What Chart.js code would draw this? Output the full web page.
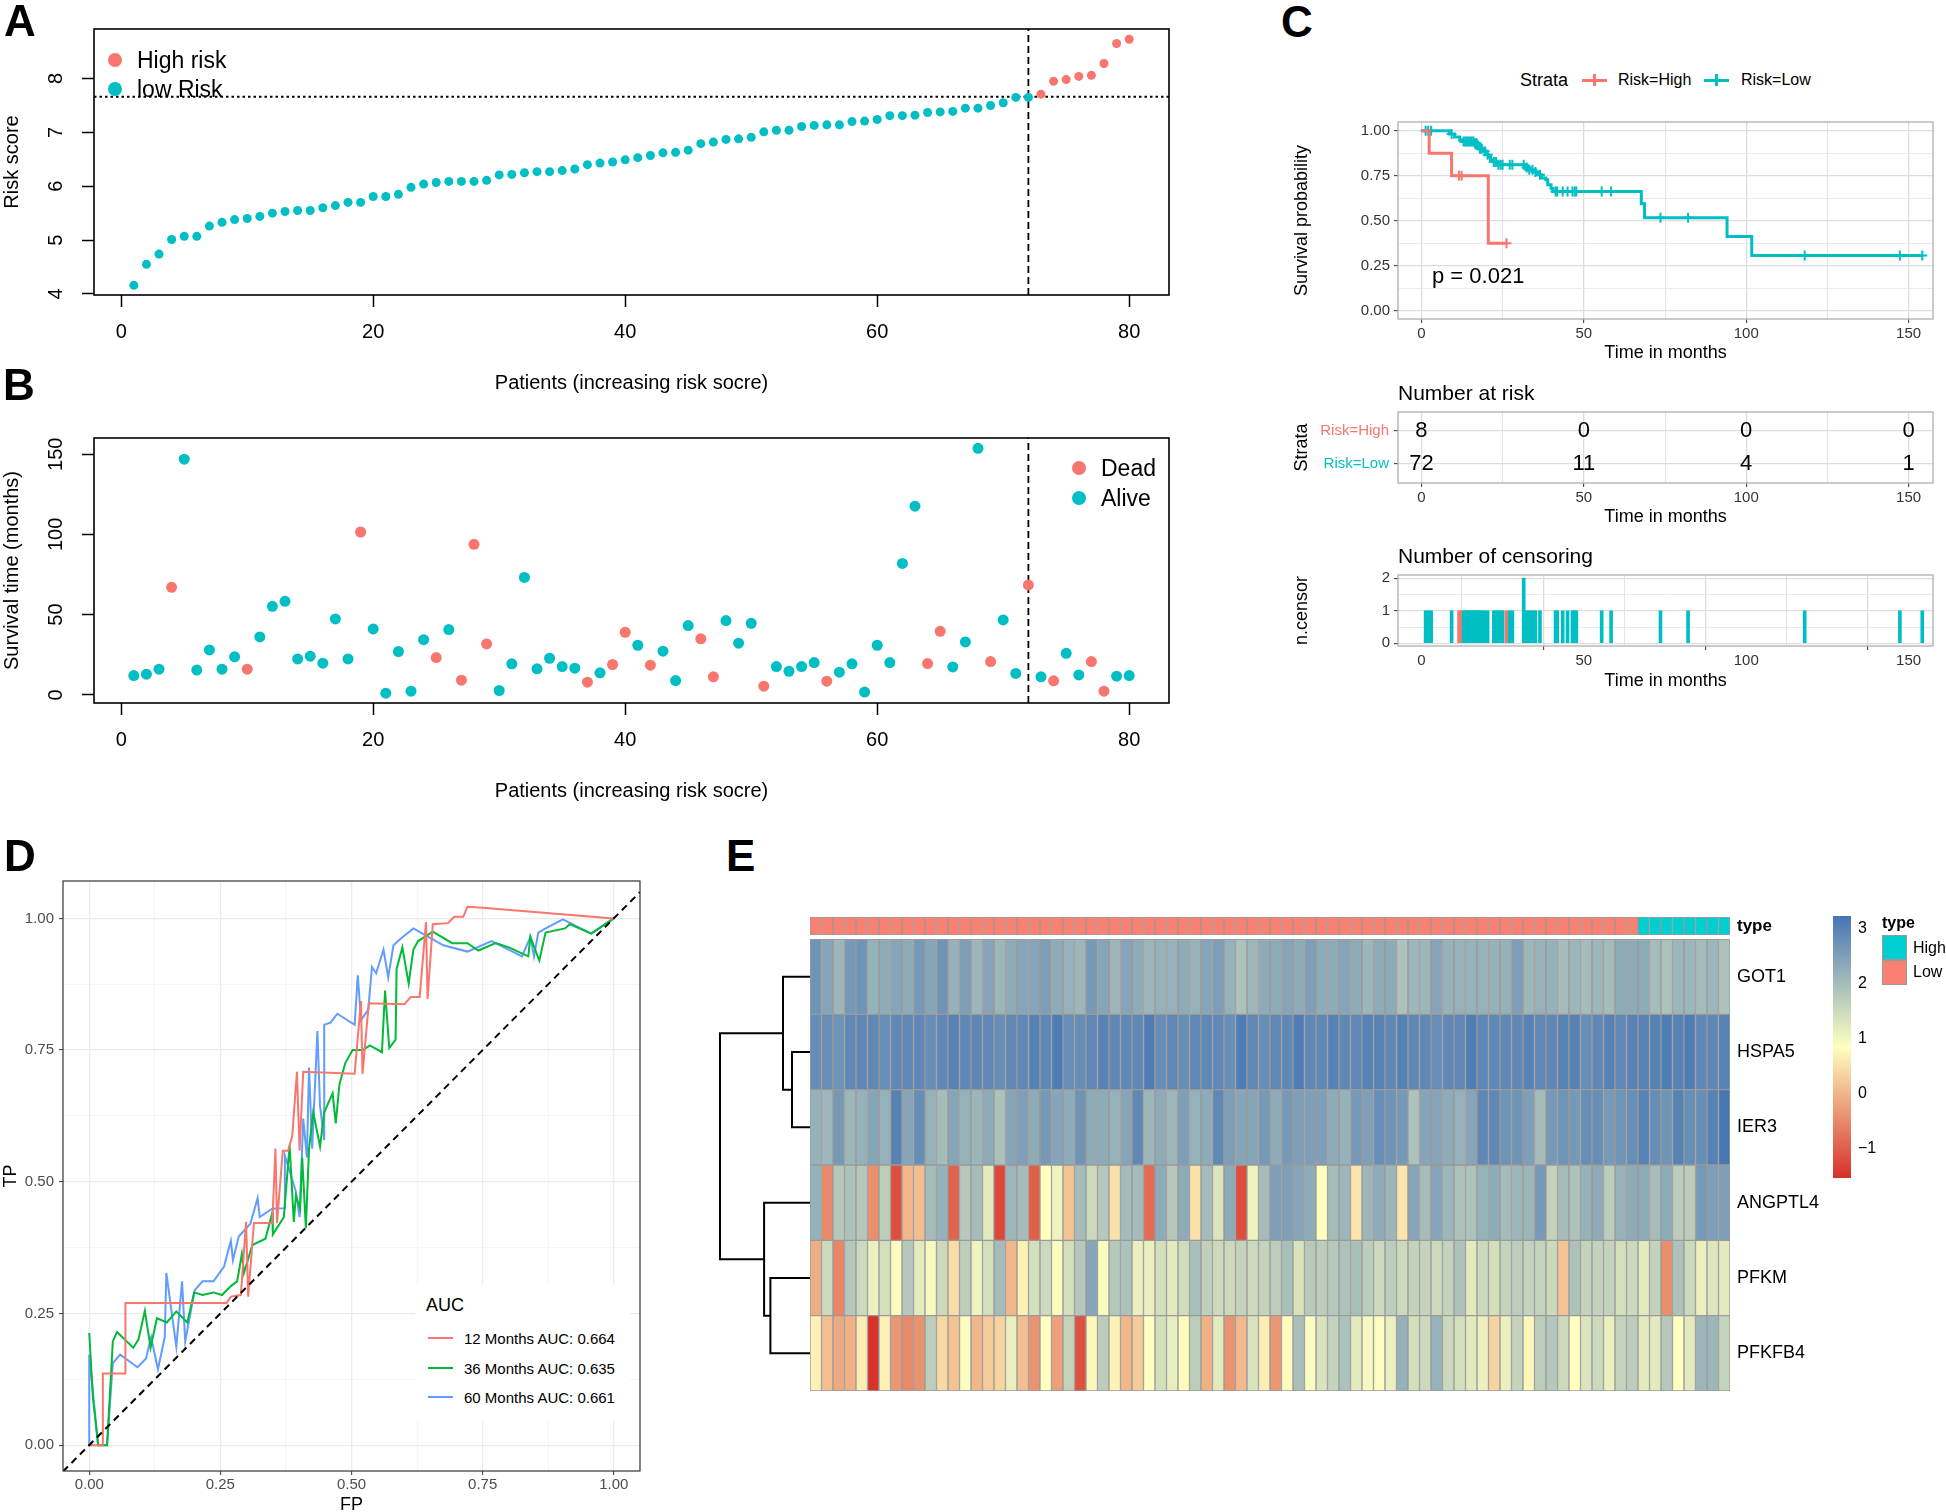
<!DOCTYPE html>
<html lang="en">
<head>
<meta charset="UTF-8">
<title>Risk model panels</title>
<script src="https://cdn.jsdelivr.net/npm/chart.js"></script>
<style>
  html, body { margin: 0; padding: 0; background: #fff; }
  body { position: relative; width: 1946px; height: 1512px; overflow: hidden;
         font-family: "Liberation Sans", Arial, Helvetica, sans-serif; color: #000; }
  canvas { position: absolute; }
  .t { position: absolute; white-space: nowrap; line-height: 1; transform: translateY(-50%); }
  .blk { position: absolute; }
</style>
</head>
<body>
<script>
// ---------------- data ----------------
const patients = Array.from({ length: 80 }, (_, i) => i + 1);

const riskScore = [4.16, 4.55, 4.74, 5.01, 5.07, 5.07, 5.26, 5.33, 5.38, 5.40,
  5.44, 5.50, 5.53, 5.55, 5.55, 5.60, 5.64, 5.70, 5.70, 5.81,
  5.81, 5.85, 5.98, 6.04, 6.07, 6.09, 6.09, 6.09, 6.11, 6.21,
  6.22, 6.25, 6.27, 6.27, 6.29, 6.32, 6.40, 6.43, 6.45, 6.49,
  6.53, 6.57, 6.62, 6.63, 6.67, 6.79, 6.82, 6.87, 6.88, 6.91,
  7.01, 7.04, 7.04, 7.11, 7.13, 7.14, 7.14, 7.20, 7.21, 7.24,
  7.31, 7.31, 7.32, 7.37, 7.38, 7.39, 7.45, 7.45, 7.50, 7.55,
  7.65, 7.65, 7.71, 7.95, 7.98, 8.04, 8.06, 8.28, 8.65, 8.73];
const riskCutoff = 7.66;
const cutPatient = 72;

const survTime = [12.0, 12.9, 16.0, 67.0, 146.9, 15.4, 28.0, 16.0, 23.7, 16.0,
  36.1, 55.2, 58.3, 22.4, 24.1, 19.7, 47.3, 22.4, 101.5, 41.1,
  1.0, 27.0, 2.3, 34.4, 23.2, 40.7, 9.1, 93.8, 31.7, 2.7,
  19.3, 73.2, 16.2, 22.8, 17.6, 16.6, 7.9, 13.7, 18.9, 39.0,
  30.9, 18.5, 27.2, 8.9, 43.2, 34.9, 11.2, 46.3, 32.2, 44.6,
  5.4, 17.6, 14.7, 17.6, 20.1, 8.5, 14.1, 19.3, 1.7, 30.9,
  20.1, 81.9, 117.6, 19.5, 39.6, 17.4, 33.0, 153.7, 20.7, 46.7,
  13.3, 68.5, 11.2, 8.7, 25.9, 12.4, 20.7, 2.3, 11.6, 12.0];
const deadStatus = [0, 0, 0, 1, 0, 0, 0, 0, 0, 1,
  0, 0, 0, 0, 0, 0, 0, 0, 1, 0,
  0, 0, 0, 0, 1, 0, 1, 1, 1, 0,
  0, 0, 0, 0, 0, 0, 1, 0, 1, 1,
  0, 1, 0, 0, 0, 1, 1, 0, 0, 0,
  1, 0, 0, 0, 0, 1, 0, 0, 0, 0,
  0, 0, 0, 1, 1, 0, 0, 0, 1, 0,
  0, 1, 0, 1, 0, 0, 1, 1, 0, 0];

const abXTicks = [0, 20, 40, 60, 80];
const riskYTicks = [4, 5, 6, 7, 8];
const survYTicks = [0, 50, 100, 150];

// Kaplan-Meier
const kmHighTime = [0, 2.4, 9.3, 20.6, 26.5];
const kmHighSurv = [1, 0.875, 0.75, 0.375, 0.375];
const kmLowTime = [0, 8.6, 10.2, 11.8, 12.5, 16.1, 17.4, 18.0, 19.1, 20.0, 20.6, 21.3, 22.3, 23.3,
  32.1, 33.1, 34.4, 35.7, 37.0, 38.3, 38.9, 39.9, 40.5, 67.7, 68.7, 94.1, 101.7, 154.2];
const kmLowSurv = [1, 0.981, 0.965, 0.95, 0.94, 0.93, 0.918, 0.90, 0.885, 0.866, 0.853, 0.839, 0.826, 0.81,
  0.796, 0.783, 0.77, 0.755, 0.737, 0.727, 0.70, 0.68, 0.662, 0.594, 0.516, 0.412, 0.306, 0.306];
const censorHighTime = [11.6, 12.4, 26.2];
const censorHighCount = [1, 1, 1];
const censorLowTime = [1.3, 2.1, 3.0, 9.3, 13.0, 13.5, 14.0, 14.5, 15.0, 15.5, 16.0, 16.5, 17.0, 17.5,
  18.0, 18.5, 19.5, 20.4, 22.3, 23.0, 23.7, 24.4, 25.0, 27.2, 28.0, 31.5, 32.4, 33.2, 34.2, 35.1,
  36.5, 41.3, 41.8, 43.5, 45.0, 46.5, 47.2, 47.7, 55.5, 58.4, 73.6, 82.1, 118.0, 147.3, 154.2];
const censorLowCount = [1, 1, 1, 1, 1, 1, 1, 1, 1, 1, 1, 1, 1, 1,
  1, 1, 1, 1, 1, 1, 1, 1, 1, 1, 1, 2, 1, 1, 1, 1,
  1, 1, 1, 1, 1, 1, 1, 1, 1, 1, 1, 1, 1, 1, 1];
const kmXTicks = [0, 25, 50, 75, 100, 125, 150];
const kmYTicks = [0, 0.125, 0.25, 0.375, 0.5, 0.625, 0.75, 0.875, 1];
const riskTimes = [0, 50, 100, 150];
const riskHigh = [8, 0, 0, 0];
const riskLow = [72, 11, 4, 1];
const censorYTicks = [0, 0.5, 1, 1.5, 2];

// ROC
const fp12 = [0, 0.026, 0.026, 0.069, 0.069, 0.262, 0.270, 0.289, 0.299, 0.303, 0.314, 0.349, 0.355, 0.358,
  0.369, 0.379, 0.387, 0.396, 0.401, 0.408, 0.506, 0.518, 0.521, 0.533, 0.601, 0.613, 0.630, 0.642,
  0.645, 0.655, 0.684, 0.696, 0.713, 0.721, 0.750, 1.0];
const tp12 = [0, 0, 0.136, 0.136, 0.270, 0.270, 0.282, 0.285, 0.424, 0.282, 0.422, 0.422, 0.563, 0.422,
  0.559, 0.559, 0.587, 0.709, 0.559, 0.709, 0.705, 0.843, 0.705, 0.839, 0.837, 0.851, 0.851, 0.993,
  0.847, 0.989, 0.991, 1.003, 1.003, 1.022, 1.020, 1.0];
const fp36 = [0, 0.007, 0.017, 0.034, 0.045, 0.053, 0.084, 0.094, 0.106, 0.117, 0.129, 0.148, 0.166, 0.187,
  0.2, 0.216, 0.237, 0.253, 0.27, 0.282, 0.291, 0.295, 0.311, 0.336, 0.349, 0.35, 0.371, 0.382, 0.39,
  0.394, 0.402, 0.406, 0.413, 0.419, 0.427, 0.44, 0.448, 0.464, 0.47, 0.477, 0.488, 0.502, 0.522, 0.535,
  0.558, 0.564, 0.572, 0.584, 0.586, 0.597, 0.609, 0.618, 0.627, 0.655, 0.692, 0.721, 0.742, 0.775, 0.8,
  0.837, 0.841, 0.858, 0.87, 0.907, 0.916, 0.957, 1];
const tp36 = [0.213, 0.091, 0, 0, 0.197, 0.215, 0.185, 0.201, 0.255, 0.185, 0.241, 0.233, 0.254, 0.233,
  0.29, 0.285, 0.29, 0.285, 0.302, 0.311, 0.363, 0.327, 0.38, 0.392, 0.441, 0.4, 0.433, 0.569, 0.424,
  0.473, 0.449, 0.546, 0.412, 0.563, 0.632, 0.567, 0.632, 0.668, 0.611, 0.685, 0.725, 0.75, 0.75, 0.759,
  0.746, 0.863, 0.754, 0.77, 0.904, 0.945, 0.876, 0.941, 0.957, 0.975, 0.953, 0.953, 0.939, 0.953, 0.945,
  0.928, 0.965, 0.92, 0.973, 0.981, 0.989, 0.971, 1];
const fp60 = [0, 0, 0.017, 0.034, 0.045, 0.059, 0.092, 0.108, 0.118, 0.131, 0.144, 0.147, 0.166, 0.177,
  0.183, 0.201, 0.216, 0.237, 0.257, 0.27, 0.274, 0.285, 0.307, 0.321, 0.325, 0.349, 0.373, 0.373, 0.394,
  0.401, 0.408, 0.415, 0.419, 0.425, 0.435, 0.44, 0.448, 0.448, 0.46, 0.473, 0.506, 0.512, 0.518, 0.532,
  0.539, 0.547, 0.561, 0.57, 0.58, 0.593, 0.618, 0.675, 0.721, 0.767, 0.825, 0.841, 0.848, 0.856, 0.87,
  0.903, 0.957, 1];
const tp60 = [0, 0.172, 0, 0, 0.156, 0.172, 0.148, 0.164, 0.205, 0.144, 0.205, 0.327, 0.187, 0.311,
  0.197, 0.294, 0.311, 0.311, 0.339, 0.388, 0.351, 0.396, 0.42, 0.469, 0.433, 0.449, 0.45, 0.55, 0.481,
  0.433, 0.62, 0.546, 0.717, 0.563, 0.786, 0.644, 0.579, 0.798, 0.802, 0.819, 0.798, 0.892, 0.807, 0.827,
  0.908, 0.896, 0.941, 0.888, 0.949, 0.961, 0.981, 0.949, 0.937, 0.957, 0.928, 0.965, 0.928, 0.973, 0.981,
  0.998, 0.971, 1];
const rocTicks = [0, 0.125, 0.25, 0.375, 0.5, 0.625, 0.75, 0.875, 1];
const rocLabels = ['12 Months AUC: 0.664', '36 Months AUC: 0.635', '60 Months AUC: 0.661'];

// heatmap
const geneNames = ['GOT1', 'HSPA5', 'IER3', 'ANGPTL4', 'PFKM', 'PFKFB4'];
const GOT1 = [2.7, 2.4, 2.1, 2.6, 2.7, 2.2, 2.3, 2.4, 2.3, 2.6, 2.4, 2.7, 2.2, 2.5, 2.1, 2.4, 2.1, 2.3, 2.4, 2.4,
  2.5, 2.3, 2.2, 2.1, 2.6, 2.4, 2.1, 2.4, 2.3, 2.1, 2.2, 2.2, 2.3, 2.2, 2.4, 2.5, 2.2, 1.9, 2.1, 2.3,
  2.3, 2.4, 2.3, 2.5, 2.3, 2.3, 2.4, 2.3, 2.1, 2.3, 2.3, 1.9, 2.1, 2.1, 2.4, 2.2, 2.2, 2.2, 2.2, 2.2,
  2.2, 2.5, 2.1, 2.2, 2.2, 2.0, 2.1, 2.0, 2.1, 2.0, 2.3, 2.3, 2.3, 2.0, 1.9, 2.1, 2.1, 2.0, 2.1, 1.9];
const HSPA5 = [2.8, 2.8, 2.7, 2.9, 2.9, 2.9, 2.8, 2.9, 2.9, 2.9, 2.8, 2.9, 3.0, 2.9, 2.9, 2.9, 2.8, 2.9, 2.9, 3.0,
  2.9, 3.1, 2.8, 2.8, 2.9, 3.0, 2.9, 2.9, 2.9, 3.1, 2.8, 2.9, 2.8, 2.9, 2.9, 2.9, 2.8, 3.1, 2.9, 2.8,
  2.9, 2.9, 3.1, 2.9, 2.9, 3.0, 2.9, 2.9, 3.0, 3.0, 2.9, 3.0, 2.9, 2.9, 2.8, 2.9, 2.9, 3.1, 2.9, 2.9,
  2.9, 2.9, 3.0, 2.9, 2.9, 3.0, 3.0, 2.8, 2.9, 3.0, 2.9, 3.0, 3.0, 3.0, 3.1, 3.0, 3.1, 2.9, 2.9, 3.0];
const IER3 = [2.2, 2.1, 2.6, 2.1, 2.2, 2.4, 2.2, 3.0, 2.4, 2.8, 2.2, 2.0, 2.4, 2.2, 2.1, 2.3, 1.9, 2.4, 2.5, 2.3,
  2.6, 2.4, 2.3, 2.7, 2.3, 2.3, 2.2, 2.4, 2.9, 2.1, 2.3, 2.1, 2.5, 2.2, 2.3, 2.9, 2.5, 2.4, 2.4, 2.6,
  2.3, 2.6, 2.5, 2.5, 2.5, 2.3, 2.2, 2.6, 2.5, 2.8, 2.7, 2.6, 1.9, 2.4, 2.4, 2.3, 2.2, 2.4, 2.9, 2.9,
  2.7, 2.7, 2.5, 2.0, 2.6, 2.7, 2.6, 2.8, 2.8, 2.6, 2.7, 2.8, 3.0, 2.8, 2.7, 3.0, 2.8, 2.8, 3.0, 3.2];
const ANGPTL4 = [2.2, -0.5, 1.8, 1.9, 1.8, -0.45, 1.7, -1.2, 0.0, 0.1, 2.0, 2.2, -0.95, 1.8, 2.0, 1.2, -1.25, 2.1, 2.0, -1.0,
  0.85, 1.05, 0.15, 2.0, 1.5, 1.8, 0.5, 2.0, 2.0, -0.85, 2.3, 1.8, 2.3, 0.5, 2.0, 1.3, 2.3, -1.2, 1.05, 2.0,
  2.5, 2.5, 2.4, 2.3, 0.85, 2.0, 2.1, 0.55, 2.1, 2.3, 2.1, 0.55, 2.4, 2.0, 2.4, 2.1, 1.9, 1.9, 2.2, 2.3,
  2.0, 2.1, 2.1, 2.6, 1.6, 2.0, 1.9, 2.2, 2.3, 1.7, 2.2, 2.3, 2.3, 2.0, 2.3, 1.7, 1.7, 2.6, 2.5, 2.5];
const PFKM = [-0.1, 1.5, -0.55, 1.8, 1.5, 1.1, 1.4, 0.9, 1.8, 1.2, 0.95, 1.5, 0.45, 1.7, 1.05, 1.4, 2.0, 0.0, 0.7, 1.4,
  1.5, 0.9, 1.4, 1.8, 2.4, 0.9, 1.8, 1.9, 1.1, 1.1, 1.4, 1.2, 1.45, 1.95, 1.65, 1.5, 1.5, 1.6, 1.5, 1.6,
  1.7, 1.95, 1.35, 1.75, 1.7, 1.8, 1.9, 1.95, 1.7, 1.5, 1.7, 1.5, 1.6, 1.6, 1.5, 1.6, 1.9, 1.2, 1.5, 1.4,
  1.6, 1.7, 1.6, 1.6, 1.5, 0.15, 1.9, 1.6, 1.6, 1.6, 1.4, 1.5, 1.2, 1.6, -0.45, 1.9, 1.5, 1.1, 1.3, 1.2];
const PFKFB4 = [0.7, 0.1, -0.15, -0.05, 0.65, -1.5, 0.7, -0.35, -0.5, -0.4, 1.7, 0.4, 0.15, 0.9, 0.0, 0.25, 0.35, 1.1, 0.1, -0.4,
  0.85, -0.25, 1.6, -1.15, 0.75, 1.7, 0.7, 0.0, 0.25, 0.85, 1.4, 1.15, 0.8, 1.7, -0.05, 1.2, -0.4, 0.05, 1.35, 0.65,
  -0.35, 0.8, 1.95, 0.9, 1.35, 1.6, 1.9, 1.2, 0.95, 0.9, 1.1, 2.2, 1.4, 1.5, 2.2, 1.5, 1.4, 1.2, 1.1, 0.35,
  1.1, 1.6, 0.75, 1.7, 1.8, 1.5, 0.85, 1.3, 1.5, 1.1, 1.6, 1.7, 1.2, 1.2, 1.8, 0.85, 1.2, 2.1, 2.1, 1.6];
const heatMin = -1.54, heatMax = 3.23;
const heatTicks = [-1, 0, 1, 2, 3];
// merges: [left node, right node, height]; nodes 0-5 are genes, 6+ are merged clusters
const dendroMerges = [[1, 2, 0.20], [0, 6, 0.30], [4, 5, 0.44], [3, 8, 0.51], [7, 9, 1.00]];

// ---------------- style ----------------
const RED = '#F8766D', TEAL = '#00BFC4';
const heatPalette = ['#D73027', '#FFFFBF', '#4575B4'];
const typeColors = { High: '#00CED1', Low: '#FA8072' };
const rocColors = ['#F8766D', '#00BA38', '#619CFF'];

Chart.defaults.font.family = "'Liberation Sans', Arial, Helvetica, sans-serif";
Chart.defaults.color = '#000';
Chart.defaults.animation = false;
Chart.defaults.responsive = false;
Chart.defaults.devicePixelRatio = 1;
Chart.defaults.events = [];
Chart.defaults.plugins.legend.display = false;
Chart.defaults.plugins.tooltip.enabled = false;

// box around the plot area
Chart.register({
  id: 'frame',
  defaults: { color: null, width: 1 },
  afterDraw(chart, args, opts) {
    if (!opts.color) return;
    const { ctx, chartArea: a } = chart;
    ctx.save();
    ctx.strokeStyle = opts.color;
    ctx.lineWidth = opts.width;
    ctx.strokeRect(a.left, a.top, a.right - a.left, a.bottom - a.top);
    ctx.restore();
  }
});
// numbers of the risk table, placed with the chart scales
Chart.register({
  id: 'riskTable',
  defaults: { rows: null },
  afterDatasetsDraw(chart, args, opts) {
    if (!opts.rows) return;
    const { ctx, scales: { x, y } } = chart;
    ctx.save();
    ctx.font = "22px 'Liberation Sans', Arial, sans-serif";
    ctx.fillStyle = '#000';
    ctx.textAlign = 'center';
    ctx.textBaseline = 'middle';
    opts.rows.forEach(r => r.values.forEach((v, i) => {
      ctx.fillText(String(v), x.getPixelForValue(opts.times[i]), y.getPixelForValue(r.level));
    }));
    ctx.restore();
  }
});

// ---------------- helpers ----------------
function makeCanvas(box, m) {
  const c = document.createElement('canvas');
  const w = box.r - box.l + m.l + m.r, h = box.b - box.t + m.t + m.b;
  c.width = w; c.height = h;
  c.style.left = (box.l - m.l) + 'px';
  c.style.top = (box.t - m.t) + 'px';
  c.style.width = w + 'px'; c.style.height = h + 'px';
  document.body.appendChild(c);
  return c;
}
function zeroPad(s) { s.paddingLeft = 0; s.paddingRight = 0; s.paddingTop = 0; s.paddingBottom = 0; }
function fixW(w) { return s => { s.width = w; zeroPad(s); }; }
function fixH(h) { return s => { s.height = h; zeroPad(s); }; }
function chartAt(box, m, cfg, pad) {
  cfg.options = cfg.options || {};
  cfg.options.layout = { padding: pad || { left: 0, top: m.t, right: m.r, bottom: 0 } };
  return new Chart(makeCanvas(box, m), cfg);
}
function setTicks(list) { return s => { s.ticks = list.map(v => ({ value: v })); }; }
function pts(xs, ys) { return xs.map((x, i) => ({ x, y: ys[i] })); }
function onStep(v, step) { return Math.abs(v / step - Math.round(v / step)) < 1e-6; }

function addText(str, x, y, size, o) {
  o = o || {};
  const d = document.createElement('div');
  d.className = 't';
  d.textContent = str;
  d.style.left = x + 'px';
  d.style.top = y + 'px';
  d.style.fontSize = size + 'px';
  if (o.bold) d.style.fontWeight = 'bold';
  if (o.color) d.style.color = o.color;
  document.body.appendChild(d);
  return d;
}
function addBlock(x, y, w, h, css) {
  const d = document.createElement('div');
  d.className = 'blk';
  d.style.left = x + 'px'; d.style.top = y + 'px';
  d.style.width = w + 'px'; d.style.height = h + 'px';
  Object.assign(d.style, css || {});
  document.body.appendChild(d);
  return d;
}

// base-R style axes for panels A and B
function baseX(mb) {
  return {
    type: 'linear', min: -2.16, max: 83.16,
    afterBuildTicks: setTicks(abXTicks), afterFit: fixH(mb),
    ticks: { font: { size: 20 }, color: '#000', padding: 13, maxRotation: 0, autoSkip: false },
    grid: { drawOnChartArea: false, tickLength: 12, tickColor: '#000', tickWidth: 1.5 },
    border: { display: false },
    title: { display: true, text: 'Patients (increasing risk socre)', font: { size: 20 }, color: '#000', padding: 0 }
  };
}
function baseY(min, max, ticks, title, pad, ml) {
  return {
    type: 'linear', min, max,
    afterBuildTicks: setTicks(ticks), afterFit: fixW(ml),
    ticks: { font: { size: 20 }, color: '#000', padding: pad, minRotation: 90, maxRotation: 90,
             crossAlign: 'center', autoSkip: false },
    grid: { drawOnChartArea: false, tickLength: 12, tickColor: '#000', tickWidth: 1.5 },
    border: { display: false },
    title: { display: true, text: title, font: { size: 20 }, color: '#000', padding: 0 }
  };
}
// ggplot style axis
function ggAxis(o) {
  const major = v => onStep(v, o.step);
  return {
    type: 'linear', min: o.min, max: o.max, offset: false,
    afterBuildTicks: setTicks(o.ticks),
    afterFit: o.vertical ? fixW(o.fit) : fixH(o.fit),
    ticks: { font: { size: o.tickSize || 15 }, color: o.tickColor || '#333', padding: o.tickPad,
             autoSkip: false, maxRotation: 0, callback: v => (major(v) ? o.fmt(v) : '') },
    grid: {
      color: c => (c.tick && major(c.tick.value)) ? o.gridMajor : o.gridMinor,
      lineWidth: c => (c.tick && major(c.tick.value)) ? 1.3 : 0.8,
      tickLength: 4, tickWidth: 1,
      tickColor: c => (c.tick && major(c.tick.value)) ? '#333' : 'rgba(0,0,0,0)'
    },
    border: { display: false },
    title: { display: !!o.title, text: o.title, font: { size: 18 }, color: '#000', padding: 0 }
  };
}
// plain label axis on the right of the heatmap pieces
function labelAxis(min, max, ticks, callback, font, width, extra) {
  return Object.assign({
    min, max, position: 'right', afterBuildTicks: setTicks(ticks), afterFit: fixW(width),
    ticks: { callback, font, color: '#000', padding: 7, autoSkip: false },
    grid: { display: false, drawTicks: false }, border: { display: false }
  }, extra || {});
}
function survAt(times, surv, t) {
  let s = surv[0];
  times.forEach((tt, i) => { if (tt <= t) s = surv[i]; });
  return s;
}
function mix(a, b, t) {
  const pa = [1, 3, 5].map(k => parseInt(a.substr(k, 2), 16));
  const pb = [1, 3, 5].map(k => parseInt(b.substr(k, 2), 16));
  return 'rgb(' + pa.map((v, k) => Math.round(v + (pb[k] - v) * t)).join(',') + ')';
}
function heatColor(v) {
  const mid = (heatMin + heatMax) / 2;
  if (v <= mid) return mix(heatPalette[0], heatPalette[1], Math.max(0, (v - heatMin) / (mid - heatMin)));
  return mix(heatPalette[1], heatPalette[2], Math.min(1, (v - mid) / (heatMax - mid)));
}

const patientType = riskScore.map(s => (s > riskCutoff ? 'High' : 'Low'));

// ---------------- A: risk score ----------------
const boxA = { l: 94, t: 29, r: 1169, b: 295 };
chartAt(boxA, { l: 94, t: 29, r: 20, b: 100 }, {
  type: 'scatter',
  data: { datasets: [
    { data: pts(patients, riskScore).filter((p, i) => patientType[i] === 'Low'), pointBackgroundColor: TEAL, pointBorderWidth: 0, pointRadius: 4.5 },
    { data: pts(patients, riskScore).filter((p, i) => patientType[i] === 'High'), pointBackgroundColor: RED, pointBorderWidth: 0, pointRadius: 4.5 },
    { data: [{ x: -2.16, y: riskCutoff }, { x: 83.16, y: riskCutoff }], showLine: true, borderColor: '#000', borderWidth: 2, borderDash: [2.5, 3], pointRadius: 0 },
    { data: [{ x: cutPatient, y: 3.98 }, { x: cutPatient, y: 8.92 }], showLine: true, borderColor: '#000', borderWidth: 1.8, borderDash: [7, 4], pointRadius: 0 }
  ] },
  options: {
    scales: { x: baseX(100), y: baseY(3.98, 8.92, riskYTicks, 'Risk score', 20, 94) },
    plugins: { frame: { color: '#000', width: 1.6 } }
  }
});

// ---------------- B: survival time ----------------
const boxB = { l: 94, t: 438, r: 1169, b: 703 };
chartAt(boxB, { l: 94, t: 20, r: 20, b: 100 }, {
  type: 'scatter',
  data: { datasets: [
    { data: pts(patients, survTime).filter((p, i) => deadStatus[i] === 0), pointBackgroundColor: TEAL, pointBorderWidth: 0, pointRadius: 5.5 },
    { data: pts(patients, survTime).filter((p, i) => deadStatus[i] === 1), pointBackgroundColor: RED, pointBorderWidth: 0, pointRadius: 5.5 },
    { data: [{ x: cutPatient, y: -5.1 }, { x: cutPatient, y: 160.1 }], showLine: true, borderColor: '#000', borderWidth: 1.8, borderDash: [7, 4], pointRadius: 0 }
  ] },
  options: {
    scales: { x: baseX(100), y: baseY(-5.1, 160.1, survYTicks, 'Survival time (months)', 9, 94) },
    plugins: { frame: { color: '#000', width: 1.6 } }
  }
});

// ---------------- C: Kaplan-Meier ----------------
const kmX = fit => ggAxis({ min: -7.2, max: 157.5, ticks: kmXTicks, step: 50, fmt: v => String(v), fit,
  tickPad: 2, gridMajor: '#DDDDDD', gridMinor: '#DDDDDD', title: 'Time in months' });
const boxC = { l: 1398, t: 122, r: 1933, b: 319 };
chartAt(boxC, { l: 107, t: 20, r: 10, b: 45 }, {
  type: 'line',
  data: { datasets: [
    { data: pts(kmHighTime, kmHighSurv), stepped: true, borderColor: RED, borderWidth: 3, pointRadius: 0, fill: false },
    { data: pts(kmLowTime, kmLowSurv), stepped: true, borderColor: TEAL, borderWidth: 3, pointRadius: 0, fill: false },
    { data: censorHighTime.map(t => ({ x: t, y: survAt(kmHighTime, kmHighSurv, t) })), showLine: false,
      pointStyle: 'cross', pointRadius: 5, pointBorderWidth: 2, pointBorderColor: RED },
    { data: censorLowTime.map(t => ({ x: t, y: survAt(kmLowTime, kmLowSurv, t) })), showLine: false,
      pointStyle: 'cross', pointRadius: 5, pointBorderWidth: 2, pointBorderColor: TEAL }
  ] },
  options: {
    scales: {
      x: kmX(45),
      y: ggAxis({ min: -0.046, max: 1.048, ticks: kmYTicks, step: 0.25, fmt: v => v.toFixed(2),
        fit: 107, vertical: true, tickPad: 4, gridMajor: '#DDDDDD', gridMinor: '#E6E6E6', title: 'Survival probability' })
    },
    plugins: { frame: { color: '#AFAFAF', width: 1.3 } }
  }
});

const boxT = { l: 1398, t: 412, r: 1933, b: 483 };
chartAt(boxT, { l: 107, t: 10, r: 10, b: 45 }, {
  type: 'line',
  data: { datasets: [] },
  options: {
    scales: {
      x: kmX(45),
      y: ggAxis({ min: 0.42, max: 2.58, ticks: [1, 2], step: 1, fmt: v => (v === 2 ? 'Risk=High' : 'Risk=Low'),
        fit: 107, vertical: true, tickPad: 5, gridMajor: '#DDDDDD', gridMinor: '#DDDDDD', title: 'Strata',
        tickColor: c => (c.tick && c.tick.value === 2 ? RED : TEAL) })
    },
    plugins: {
      frame: { color: '#AFAFAF', width: 1.3 },
      riskTable: { times: riskTimes, rows: [{ level: 2, values: riskHigh }, { level: 1, values: riskLow }] }
    }
  }
});

const boxN = { l: 1398, t: 575, r: 1933, b: 646 };
chartAt(boxN, { l: 107, t: 10, r: 10, b: 46 }, {
  type: 'bar',
  data: { datasets: [
    { data: pts(censorLowTime, censorLowCount), backgroundColor: TEAL, barThickness: 3, grouped: false },
    { data: pts(censorHighTime, censorHighCount), backgroundColor: RED, barThickness: 3, grouped: false }
  ] },
  options: {
    scales: {
      x: kmX(46),
      y: ggAxis({ min: -0.083, max: 2.1, ticks: censorYTicks, step: 1, fmt: v => String(v), fit: 107,
        vertical: true, tickPad: 4, gridMajor: '#DDDDDD', gridMinor: '#E6E6E6', title: 'n.censor' })
    },
    plugins: { frame: { color: '#AFAFAF', width: 1.3 } }
  }
});

// ---------------- D: ROC ----------------
const boxD = { l: 63, t: 881, r: 640, b: 1471 };
chartAt(boxD, { l: 63, t: 10, r: 10, b: 45 }, {
  type: 'scatter',
  data: { datasets: [
    { data: [{ x: -0.05, y: -0.05 }, { x: 1.05, y: 1.05 }], showLine: true, borderColor: '#000', borderWidth: 2, borderDash: [7, 5], pointRadius: 0 },
    { data: pts(fp12, tp12), showLine: true, borderColor: rocColors[0], borderWidth: 2, pointRadius: 0 },
    { data: pts(fp36, tp36), showLine: true, borderColor: rocColors[1], borderWidth: 2, pointRadius: 0 },
    { data: pts(fp60, tp60), showLine: true, borderColor: rocColors[2], borderWidth: 2, pointRadius: 0 }
  ] },
  options: {
    scales: {
      x: ggAxis({ min: -0.05, max: 1.05, ticks: rocTicks, step: 0.25, fmt: v => v.toFixed(2), fit: 45,
        tickPad: 1, gridMajor: '#EBEBEB', gridMinor: '#F2F2F2', title: 'FP', tickColor: '#4D4D4D' }),
      y: ggAxis({ min: -0.049, max: 1.071, ticks: rocTicks, step: 0.25, fmt: v => v.toFixed(2), fit: 63,
        vertical: true, tickPad: 5, gridMajor: '#EBEBEB', gridMinor: '#F2F2F2', title: 'TP', tickColor: '#4D4D4D' })
    },
    plugins: { frame: { color: '#333', width: 1.2 } }
  }
});

// ---------------- E: heatmap ----------------
const heatRows = [GOT1, HSPA5, IER3, ANGPTL4, PFKM, PFKFB4];
const boxE = { l: 810, t: 939, r: 1730, b: 1391 };
chartAt(boxE, { l: 0, t: 0, r: 100, b: 0 }, {
  type: 'bar',
  data: { labels: patients, datasets: heatRows.map((row, r) => ({
    label: geneNames[r], data: row.map(() => 1), backgroundColor: row.map(heatColor),
    borderColor: '#9A9A9A', borderWidth: 1, borderSkipped: false,
    categoryPercentage: 1, barPercentage: 1
  })) },
  options: {
    scales: {
      x: { stacked: true, display: false },
      y: labelAxis(0, 6, geneNames.map((g, i) => i + 0.5), (v, i) => geneNames[i], { size: 18 }, 100,
        { stacked: true, reverse: true })
    }
  }
}, { left: 0, top: 0, right: 0, bottom: 0 });

const boxAnn = { l: 810, t: 917, r: 1730, b: 935 };
chartAt(boxAnn, { l: 0, t: 0, r: 100, b: 0 }, {
  type: 'bar',
  data: { labels: patients, datasets: [{
    data: patientType.map(() => 1), backgroundColor: patientType.map(t => typeColors[t]),
    borderColor: '#9A9A9A', borderWidth: 1, borderSkipped: false, categoryPercentage: 1, barPercentage: 1
  }] },
  options: {
    scales: {
      x: { display: false },
      y: labelAxis(0, 1, [0.5], () => 'type', { size: 17, weight: 'bold' }, 100)
    }
  }
}, { left: 0, top: 0, right: 0, bottom: 0 });

// dendrogram built from the merge heights
const dNodes = geneNames.map((g, i) => ({ y: i + 0.5, h: 0 }));
const dSegs = [];
dendroMerges.forEach(([a, b, h]) => {
  const L = dNodes[a], R = dNodes[b];
  dSegs.push([{ x: L.h, y: L.y }, { x: h, y: L.y }, { x: h, y: R.y }, { x: R.h, y: R.y }]);
  dNodes.push({ y: (L.y + R.y) / 2, h });
});
const boxDen = { l: 720, t: 939, r: 810, b: 1391 };
chartAt(boxDen, { l: 4, t: 4, r: 0, b: 4 }, {
  type: 'scatter',
  data: { datasets: dSegs.map(s => ({ data: s, showLine: true, borderColor: '#000', borderWidth: 2,
    pointRadius: 0, clip: false })) },
  options: {
    scales: {
      x: { type: 'linear', min: 0, max: 1, reverse: true, display: false },
      y: { type: 'linear', min: 0, max: 6, reverse: true, display: false }
    }
  }
}, { left: 4, top: 4, right: 0, bottom: 4 });

// colour key
const boxKey = { l: 1833, t: 916, r: 1851, b: 1178 };
chartAt(boxKey, { l: 0, t: 6, r: 40, b: 6 }, {
  type: 'bar',
  data: { labels: [''], datasets: [{
    data: [[heatMin, heatMax]], borderWidth: 0, categoryPercentage: 1, barPercentage: 1,
    backgroundColor: c => {
      const ch = c.chart;
      if (!ch.chartArea) return heatPalette[1];
      const y = ch.scales.y;
      const g = ch.ctx.createLinearGradient(0, y.getPixelForValue(heatMin), 0, y.getPixelForValue(heatMax));
      g.addColorStop(0, heatPalette[0]); g.addColorStop(0.5, heatPalette[1]); g.addColorStop(1, heatPalette[2]);
      return g;
    }
  }] },
  options: {
    scales: {
      x: { display: false },
      y: labelAxis(heatMin, heatMax, heatTicks, v => (v < 0 ? '\u2212' + Math.abs(v) : String(v)), { size: 16 }, 40)
    }
  }
}, { left: 0, top: 6, right: 0, bottom: 6 });

// ---------------- text, legends ----------------
addText('A', 4, 21, 44, { bold: true });
addText('B', 3, 385, 44, { bold: true });
addText('C', 1281, 22, 44, { bold: true });
addText('D', 4, 856, 44, { bold: true });
addText('E', 726, 856, 44, { bold: true });

// A legend
addBlock(108, 53, 14, 14, { background: RED, borderRadius: '50%' });
addBlock(108, 82, 14, 14, { background: TEAL, borderRadius: '50%' });
addText('High risk', 137, 60, 23);
addText('low Risk', 137, 89, 23);
// B legend
addBlock(1072, 461, 14, 14, { background: RED, borderRadius: '50%' });
addBlock(1072, 491, 14, 14, { background: TEAL, borderRadius: '50%' });
addText('Dead', 1101, 468, 23);
addText('Alive', 1101, 498, 23);

// C legend and labels
addText('Strata', 1520, 80, 18);
[[1582, RED, 'Risk=High', 1618], [1704, TEAL, 'Risk=Low', 1741]].forEach(([x, col, lab, tx]) => {
  addBlock(x, 78.5, 25, 3, { background: col });
  addBlock(x + 11, 74, 3, 12, { background: col });
  addText(lab, tx, 80, 16);
});
addText('p = 0.021', 1432, 276, 22);
addText('Number at risk', 1398, 392, 21);
addText('Number of censoring', 1398, 555, 21);

// D legend
addBlock(415, 1285, 215, 136, { background: '#fff' });
addText('AUC', 426, 1305, 18);
[1338, 1368, 1397].forEach((y, i) => {
  addBlock(428, y - 1, 25, 2, { background: rocColors[i] });
  addText(rocLabels[i], 464, y, 15);
});

// E type legend
addText('type', 1882, 923, 16, { bold: true });
addBlock(1882, 935, 23, 23, { background: typeColors.High, border: '1px solid #9A9A9A' });
addBlock(1882, 960, 23, 23, { background: typeColors.Low, border: '1px solid #9A9A9A' });
addText('High', 1913, 948, 16);
addText('Low', 1913, 972, 16);
</script>
</body>
</html>
